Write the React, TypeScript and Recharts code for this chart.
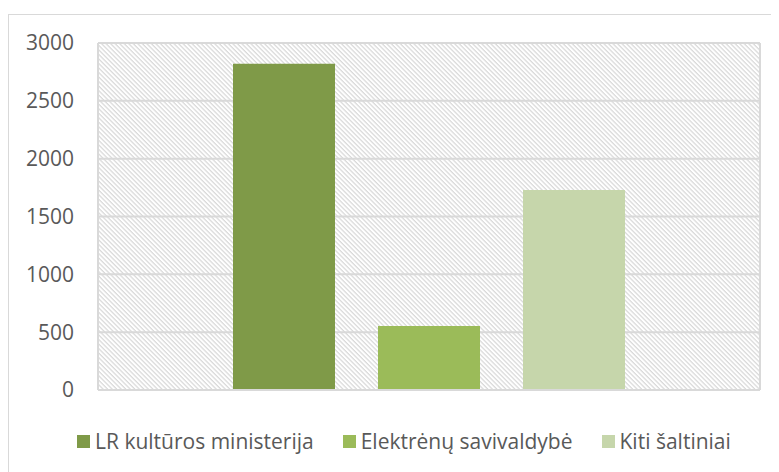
import React from 'react';
import { BarChart, Bar, XAxis, YAxis, CartesianGrid, Legend } from 'recharts';

const CATEGORIES = ['Finansavimas'];
const SERIES = ['LR kultūros ministerija', 'Elektrėnų savivaldybė', 'Kiti šaltiniai'];
const VALUES = [2820, 553, 1730];
const COLORS = ['#7f9a48', '#9bbb59', '#c6d6ab'];
const Y_TICKS = [0, 500, 1000, 1500, 2000, 2500, 3000];

const data = CATEGORIES.map((name) => {
  const row: any = { name };
  SERIES.forEach((_, i) => {
    row['s' + i] = VALUES[i];
  });
  return row;
});

const FONT = '"Open Sans", "Liberation Sans", sans-serif';
const GRID = '#d9d9d9';
const TEXT = '#595959';

// keep legend in series order (recharts 3 sorts by name otherwise)
const renderLegend = ({ payload }: any) => {
  const items = [...(payload || [])].sort((a: any, b: any) => SERIES.indexOf(a.value) - SERIES.indexOf(b.value));
  return (
    <div style={{ display: 'flex', alignItems: 'center', height: 40, paddingLeft: 69, fontFamily: FONT, fontSize: 21, color: TEXT, whiteSpace: 'nowrap' }}>
      {items.map((entry: any, i: number) => (
        <div key={i} style={{ display: 'flex', alignItems: 'center', marginRight: 29 }}>
          <span style={{ width: 13, height: 13, background: entry.color, display: 'inline-block', marginRight: 5 }} />
          <span>{entry.value}</span>
        </div>
      ))}
    </div>
  );
};

export default function App() {
  return (
    <div style={{ position: 'relative', width: 771, height: 464, overflow: 'hidden' }}>
      <div style={{ position: 'absolute', left: 0, top: 6, width: 800, height: 500, borderLeft: '1px solid ' + GRID, borderTop: '1px solid ' + GRID }} />
      <BarChart
        width={771}
        height={464}
        data={data}
        margin={{ top: 35, right: 19, left: 0, bottom: 11 }}
        barCategoryGap={135}
        barGap={43}
      >
        <defs>
          <pattern id="hatch" patternUnits="userSpaceOnUse" width="3.2" height="3.2" patternTransform="rotate(45)">
            <rect width="3.2" height="3.2" fill="#ffffff" />
            <line x1="0" y1="0.6" x2="3.2" y2="0.6" stroke={GRID} strokeWidth="1.3" />
          </pattern>
        </defs>
        <CartesianGrid
          fill="url(#hatch)"
          fillOpacity={1}
          stroke={GRID}
          strokeWidth={2}
          verticalCoordinatesGenerator={({ offset }: any) => [offset.left, offset.left + offset.width]}
        />
        <XAxis dataKey="name" tick={false} tickLine={false} axisLine={{ stroke: GRID, strokeWidth: 2 }} height={31} />
        <YAxis
          domain={[0, 3000]}
          ticks={Y_TICKS}
          width={90}
          axisLine={{ stroke: GRID, strokeWidth: 2 }}
          tickLine={false}
          tickSize={6}
          tickMargin={18}
          tick={{ fill: TEXT, fontSize: 21, fontFamily: FONT }}
        />
        <Legend verticalAlign="bottom" height={40} content={renderLegend} wrapperStyle={{ left: 0, width: 771 }} />
        {SERIES.map((s, i) => (
          <Bar key={s} dataKey={'s' + i} name={s} fill={COLORS[i]} isAnimationActive={false} />
        ))}
      </BarChart>
    </div>
  );
}
